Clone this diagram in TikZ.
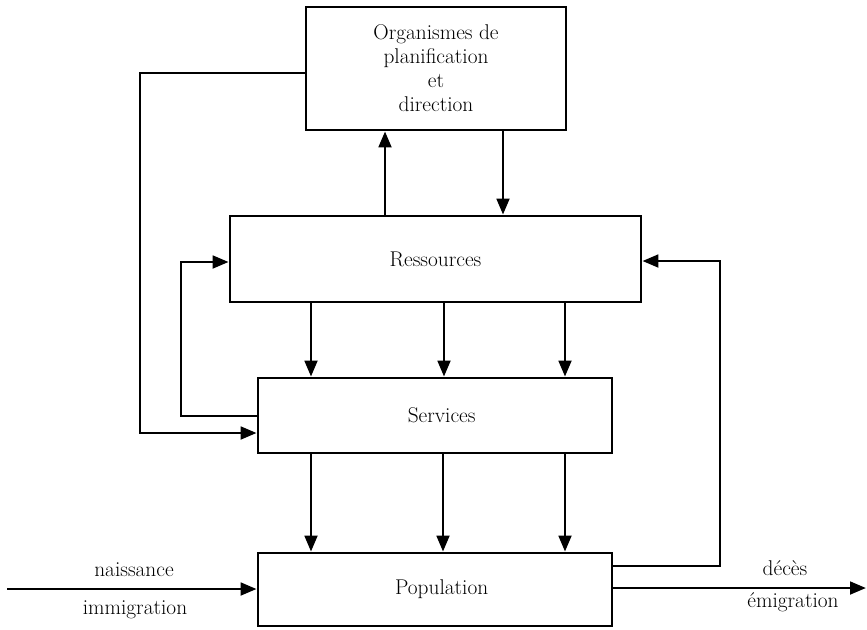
\documentclass[tikz,border=0pt]{standalone}
\usepackage{fontspec}
\usetikzlibrary{arrows.meta}
\begin{document}
\begin{tikzpicture}[x=0.75pt,y=-0.75pt,line width=2.1pt,
  box/.style={draw,line width=2.1pt,inner sep=0pt,align=center,font=\fontsize{16}{18}\selectfont},
  arr/.style={-{Triangle[length=12pt,width=9.5pt]},line width=2.1pt},
  lbl/.style={font=\fontsize{16}{18}\selectfont,inner sep=0pt}]
\useasboundingbox (0,0) rectangle (867,629);
\node[box,minimum width=195pt,minimum height=92.25pt] (org) at (436,68.5)
  {Organismes de\\planification\\et\\direction};
\node[box,minimum width=308.25pt,minimum height=64.5pt] (res) at (435.5,259) {Ressources};
\node[box,minimum width=265.5pt,minimum height=56.25pt] (ser) at (435,415.5) {\hspace*{10pt}Services};
\node[box,minimum width=265.5pt,minimum height=54.75pt] (pop) at (435,589.5) {\hspace*{10pt}Population};
% planning -> services
\draw[arr] (org.west |- 0,73) -- (140,73) -- (140,433) -- (ser.west |- 0,433);
% services -> resources loop
\draw[arr] (ser.west |- 0,416) -- (181,416) -- (181,262) -- (res.west |- 0,262);
% resources <-> planning
\draw[arr] (res.north -| 385,0) -- (org.south -| 385,0);
\draw[arr] (org.south -| 503,0) -- (res.north -| 503,0);
% resources -> services
\draw[arr] (res.south -| 311,0) -- (ser.north -| 311,0);
\draw[arr] (res.south -| 444,0) -- (ser.north -| 444,0);
\draw[arr] (res.south -| 565,0) -- (ser.north -| 565,0);
% services -> population
\draw[arr] (ser.south -| 311,0) -- (pop.north -| 311,0);
\draw[arr] (ser.south -| 443,0) -- (pop.north -| 443,0);
\draw[arr] (ser.south -| 565,0) -- (pop.north -| 565,0);
% population -> resources feedback
\draw[arr] (pop.east |- 0,566) -- (720,566) -- (720,261) -- (res.east |- 0,261);
% inputs / outputs
\coordinate (in) at (7,589);
\coordinate (out) at (866,588);
\draw[arr] (in) -- (pop.west |- in);
\draw[arr] (pop.east |- out) -- (out);
\node[lbl] (nai) at (134,570) {naissance};
\node[lbl] (imm) at (135,610) {immigration};
\node[lbl] (dec) at (785,568) {décès};
\node[lbl] (emi) at (793,602) {émigration};
\end{tikzpicture}
\end{document}
